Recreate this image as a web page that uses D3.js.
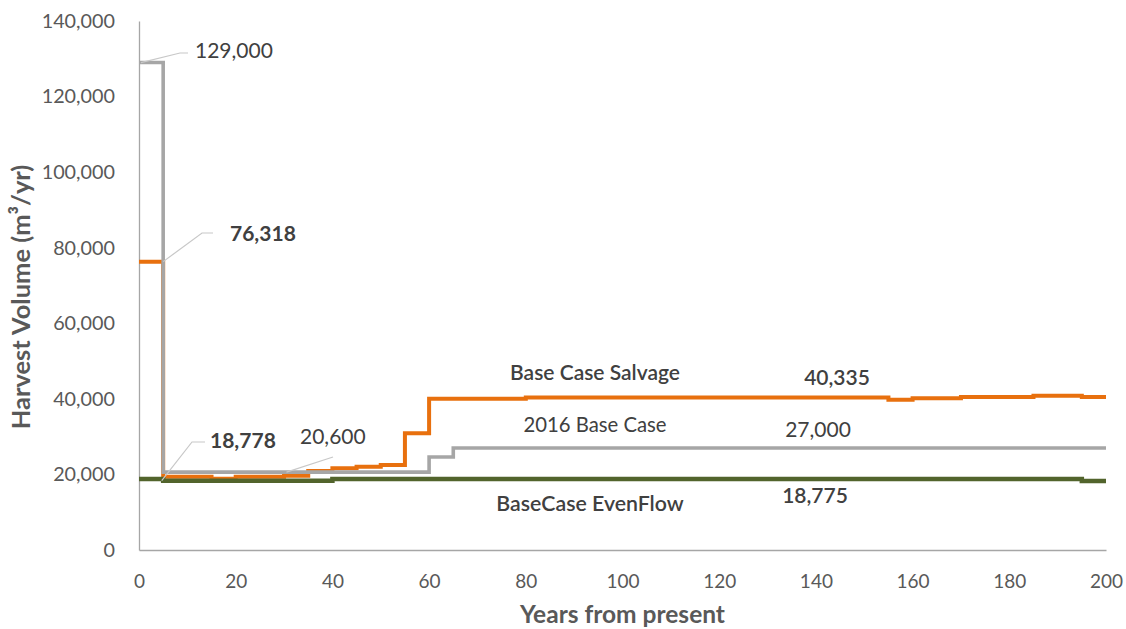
<!DOCTYPE html>
<html>
<head>
<meta charset="utf-8">
<script src="https://cdn.jsdelivr.net/npm/d3@7"></script>
<style>
  html, body { margin: 0; padding: 0; background: #fff; }
  svg { display: block; font-family: Lato, "Open Sans", sans-serif; }
</style>
</head>
<body>
<svg id="chart" width="1126" height="629"></svg>
<script>
// Harvest volume scenarios (step series: value holds from each year until the next)
const salvageYears  = [0, 5, 15, 20, 30, 35, 40, 45, 50, 55, 60, 80, 155, 160, 170, 185, 195, 200];
const salvageValues = [76318, 19390, 18860, 19390, 19650, 20900, 21610, 22040, 22490, 30870, 40000, 40335, 39760, 40130, 40480, 40820, 40480, 40480];

const baseYears  = [0, 5, 60, 65, 200];
const baseValues = [129000, 20600, 24600, 27000, 27000];

const evenYears  = [0, 5, 40, 195, 200];
const evenValues = [18778, 18330, 18775, 18250, 18250];

const xTicks = [0, 20, 40, 60, 80, 100, 120, 140, 160, 180, 200];
const yTicks = [0, 20000, 40000, 60000, 80000, 100000, 120000, 140000];

const seriesNames = ["Base Case Salvage", "2016 Base Case", "BaseCase EvenFlow"];
const plateauLabels = ["40,335", "27,000", "18,775"];

const margin = { left: 139, right: 20, top: 21, bottom: 79 };
const W = 1126, H = 629;
const svg = d3.select("#chart");

const x = d3.scaleLinear().domain([0, 200]).range([margin.left, W - margin.right]);
const y = d3.scaleLinear().domain([0, 140000]).range([H - margin.bottom, margin.top]);

const fmt = d3.format(",");

// Axes (no tick marks, grey baseline)
const xAxis = svg.append("g").attr("transform", `translate(0,${y(0)})`)
  .call(d3.axisBottom(x).tickValues(xTicks).tickSize(0).tickPadding(25).tickFormat(d3.format("d")));
const yAxis = svg.append("g").attr("transform", `translate(${x(0)},0)`)
  .call(d3.axisLeft(y).tickValues(yTicks).tickSize(0).tickPadding(24).tickFormat(fmt));
[xAxis, yAxis].forEach(g => {
  g.select(".domain").attr("stroke", "#a6a6a6").attr("stroke-width", 1.3);
  g.selectAll("text").attr("fill", "#595959").style("font-size", "19.8px").style("font-family", "Lato, sans-serif");
});
xAxis.selectAll("text").style("font-size", "19px");

// Axis titles
svg.append("text")
  .attr("x", x(100)).attr("y", 617)
  .attr("text-anchor", "middle").attr("dominant-baseline", "middle")
  .attr("fill", "#595959").style("font-size", "24.5px").style("font-weight", "bold")
  .text("Years from present");
svg.append("text")
  .attr("transform", `translate(23,297) rotate(-90)`)
  .attr("text-anchor", "middle").attr("dominant-baseline", "middle")
  .attr("fill", "#595959").style("font-size", "25.5px").style("font-weight", "bold")
  .text("Harvest Volume (m³/yr)");

// Step lines
const line = d3.line().x(d => x(d[0])).y(d => y(d[1])).curve(d3.curveStepAfter);
const series = [
  { years: salvageYears, values: salvageValues, color: "#e8700e", width: 4 },
  { years: baseYears,    values: baseValues,    color: "#a6a6a6", width: 3.6 },
  { years: evenYears,    values: evenValues,    color: "#52642c", width: 4.5 }
];
series.forEach(s => {
  svg.append("path")
    .datum(s.years.map((yr, i) => [yr, s.values[i]]))
    .attr("d", line)
    .attr("fill", "none")
    .attr("stroke", s.color)
    .attr("stroke-width", s.width)
    .attr("stroke-linejoin", "miter");
});

// Callouts with leader lines
const callouts = [
  { text: fmt(baseValues[0]),    at: [0.4, baseValues[0]],    elbow: [180, 53], end: [188, 53], tx: 195, ty: 53, bold: false },
  { text: fmt(salvageValues[0]), at: [5, salvageValues[0]],   elbow: [202, 233], end: [213, 233], tx: 230, ty: 236, bold: true },
  { text: fmt(evenValues[0]),    at: [4.7, evenValues[1]],    elbow: [192, 442], end: [205, 442], tx: 210, ty: 443, bold: true },
  { text: fmt(baseValues[1]),    at: [30.5, baseValues[1]],   elbow: [333, 457], end: [333, 457], tx: 300, ty: 439, bold: false }
];
callouts.forEach(c => {
  svg.append("polyline")
    .attr("points", [[x(c.at[0]), y(c.at[1])], c.elbow, c.end].map(p => p.join(",")).join(" "))
    .attr("fill", "none").attr("stroke", "#c8c8c8").attr("stroke-width", 1.2);
  svg.append("text")
    .attr("x", c.tx).attr("y", c.ty)
    .attr("dominant-baseline", "middle")
    .attr("fill", "#404040")
    .style("font-size", "21px")
    .style("font-weight", c.bold ? "bold" : "normal")
    .text(c.text);
});

// Series names and plateau values
const nameLayout = [
  { cx: 595, cy: 375, bold: true,  size: 21 },
  { cx: 595, cy: 427, bold: false, size: 20.3 },
  { cx: 590, cy: 506, bold: true,  size: 21.3 }
];
const valueLayout = [
  { cx: 837, cy: 380, bold: true,  size: 21 },
  { cx: 818, cy: 432, bold: false, size: 21 },
  { cx: 815, cy: 498, bold: true,  size: 21 }
];
seriesNames.forEach((n, i) => {
  svg.append("text")
    .attr("x", nameLayout[i].cx).attr("y", nameLayout[i].cy)
    .attr("text-anchor", "middle").attr("dominant-baseline", "middle")
    .attr("fill", "#404040").style("font-size", nameLayout[i].size + "px")
    .style("font-weight", nameLayout[i].bold ? 600 : "normal")
    .text(n);
  svg.append("text")
    .attr("x", valueLayout[i].cx).attr("y", valueLayout[i].cy)
    .attr("text-anchor", "middle").attr("dominant-baseline", "middle")
    .attr("fill", "#404040").style("font-size", valueLayout[i].size + "px")
    .style("font-weight", valueLayout[i].bold ? 600 : "normal")
    .text(plateauLabels[i]);
});
</script>
</body>
</html>
